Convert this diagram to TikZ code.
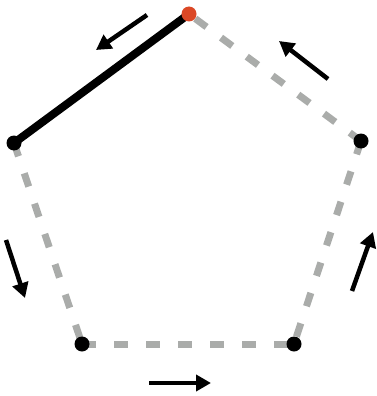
\documentclass[tikz,border=0pt]{standalone}
\usepackage{tikz}
\usetikzlibrary{arrows.meta,backgrounds}
\definecolor{startred}{RGB}{219,72,38}
\definecolor{pathgray}{RGB}{170,172,170}

\begin{document}
\begin{tikzpicture}[x=1pt, y=-1pt,
  vtx/.style={circle, fill=black, minimum size=15pt, inner sep=0pt},
  origin/.style={circle, fill=startred, minimum size=15pt, inner sep=0pt},
  walked/.style={line width=8pt, black},
  todo/.style={line width=7pt, pathgray, dash pattern=on 14pt off 18pt},
  mv/.style={line width=4.5pt, -{Triangle[length=15pt, width=16pt]}}
]
\useasboundingbox (0,0) rectangle (376,396);
\node[origin] (t) at (189, 14) {};
\node[vtx] (l) at (14, 143) {};
\node[vtx] (r) at (361, 141) {};
\node[vtx] (bl) at (82, 344) {};
\node[vtx] (br) at (294, 344) {};
% pentagon edges
\begin{scope}[on background layer]
\draw[walked] (t.center) -- (l.center);
\draw[todo] (l.center) -- (bl.center);
\draw[todo] (bl.center) -- (br.center);
\draw[todo] (r.center) -- (br.center);
\draw[todo] (r.center) -- (t.center);
\end{scope}
% direction of travel
\coordinate (a1s) at (147, 15);  \coordinate (a1e) at (96, 50);
\coordinate (a2s) at (328, 79);  \coordinate (a2e) at (279, 41);
\coordinate (a3s) at (6, 240);   \coordinate (a3e) at (25, 298);
\coordinate (a4s) at (352, 291); \coordinate (a4e) at (373, 232);
\coordinate (a5s) at (149, 383); \coordinate (a5e) at (211, 383);
\draw[mv] (a1s) -- (a1e);
\draw[mv] (a2s) -- (a2e);
\draw[mv] (a3s) -- (a3e);
\draw[mv] (a4s) -- (a4e);
\draw[mv] (a5s) -- (a5e);
\end{tikzpicture}
\end{document}
